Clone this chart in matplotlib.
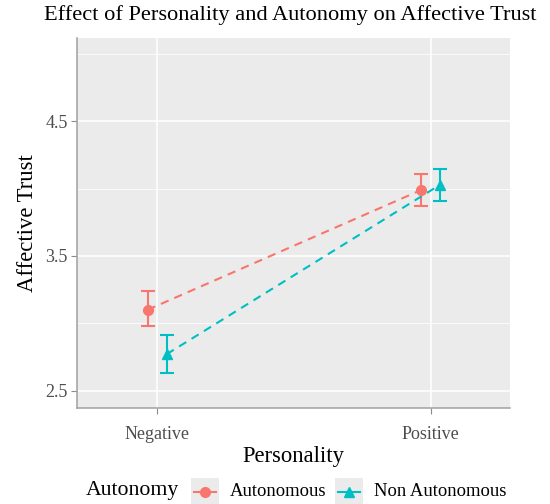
import matplotlib.pyplot as plt

plt.rcParams['font.family'] = ['Liberation Serif', 'DejaVu Serif']

personality = ['Negative', 'Positive']
groups = ['Autonomous', 'Non Autonomous']
means = {'Autonomous': [3.10, 3.99], 'Non Autonomous': [2.77, 4.03]}
lower = {'Autonomous': [2.98, 3.87], 'Non Autonomous': [2.63, 3.91]}
upper = {'Autonomous': [3.24, 4.11], 'Non Autonomous': [2.91, 4.15]}
colors = {'Autonomous': '#F8766D', 'Non Autonomous': '#00BFC4'}
markers = {'Autonomous': 'o', 'Non Autonomous': '^'}
dodge = {'Autonomous': -0.035, 'Non Autonomous': 0.035}

W, H = 550, 504
fig = plt.figure(figsize=(W / 100, H / 100), dpi=100)
ax = fig.add_axes([77 / W, 1 - 408 / H, 433 / W, 370 / H])
ax.set_facecolor('#EBEBEB')

for g in groups:
    xs = [i + 1 + dodge[g] for i in range(len(personality))]
    m = means[g]
    yerr = [[m[i] - lower[g][i] for i in range(2)], [upper[g][i] - m[i] for i in range(2)]]
    ax.errorbar(xs, m, yerr=yerr, fmt='none', ecolor=colors[g], elinewidth=1.5,
                capsize=4.7, capthick=1.5, zorder=3)
    ax.plot(xs, m, color=colors[g], linestyle=(0, (4, 3)), lw=1.5, zorder=3)
    ax.plot(xs, m, linestyle='none', marker=markers[g], color=colors[g], ms=7, zorder=4)

ax.set_xlim(0.707, 2.29)
ax.set_ylim(2.37, 5.12)
ax.set_xticks([1, 2])
ax.set_xticklabels(personality)
ax.set_yticks([2.5, 3.5, 4.5])
ax.set_yticks([3.0, 4.0, 5.0], minor=True)
ax.grid(True, which='major', color='white', lw=1.1)
ax.grid(True, which='minor', axis='y', color='white', lw=0.55)
ax.set_axisbelow(True)
ax.tick_params(axis='both', which='major', labelsize=13, labelcolor='#4D4D4D',
               color='#8C8C8C', length=4, width=0.8)
ax.tick_params(axis='x', which='major', pad=9)
ax.tick_params(axis='y', which='major', pad=2.8)
ax.tick_params(axis='y', which='minor', length=0)
for s in ['top', 'right']:
    ax.spines[s].set_visible(False)
for s in ['left', 'bottom']:
    ax.spines[s].set_color('#A0A0A0')
    ax.spines[s].set_linewidth(1.1)

ax.set_xlabel('Personality', fontsize=16.3, labelpad=2)
ax.set_ylabel('Affective Trust', fontsize=16.3, labelpad=5)
fig.text(290 / W, 1 - 15 / H, 'Effect of Personality and Autonomy on Affective Trust',
         fontsize=16.1, ha='center', va='center')

# legend along the bottom, built by hand (ggplot style grey keys)
fig.text(86 / W, 1 - 491 / H, 'Autonomy', fontsize=15.7, va='center', ha='left')
key_x = {'Autonomous': 191, 'Non Autonomous': 335}
for g in groups:
    kax = fig.add_axes([key_x[g] / W, 1 - 505 / H, 28 / W, 27 / H])
    kax.set_facecolor('#EBEBEB')
    kax.plot([0.1, 0.9], [0.5, 0.5], color=colors[g], lw=1.5)
    kax.plot([0.5], [0.5], marker=markers[g], color=colors[g], ms=7, linestyle='none')
    kax.set_xlim(0, 1)
    kax.set_ylim(0, 1)
    kax.set_xticks([])
    kax.set_yticks([])
    for s in kax.spines.values():
        s.set_visible(False)
    fig.text((key_x[g] + 39) / W, 1 - 491 / H, g, fontsize=13.4, va='center', ha='left')

fig.savefig('out.png', dpi=100)
